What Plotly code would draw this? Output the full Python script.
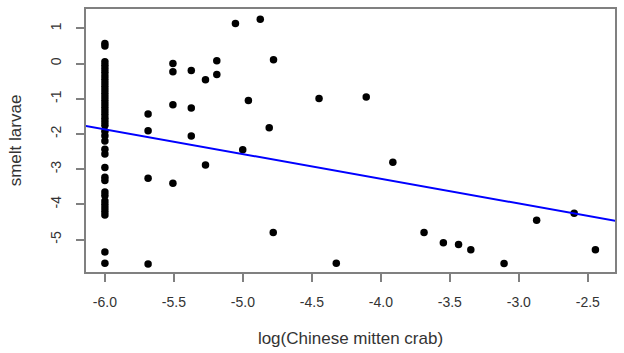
import plotly.graph_objects as go

# Column of observations at log(crab) = -6.0
col_x_value = -6.0
col_y = [0.57, 0.5, 0.05, -0.05, -0.15, -0.25, -0.35, -0.45, -0.55, -0.65, -0.75,
         -0.85, -0.95, -1.05, -1.15, -1.25, -1.35, -1.45, -1.55, -1.65, -1.75,
         -1.92, -2.05, -2.2, -2.43, -2.57, -2.95, -3.23, -3.32, -3.65, -3.75,
         -3.9, -4.0, -4.1, -4.2, -4.3, -5.35, -5.67]

other_x = [-5.054, -4.874, -5.507, -5.507, -5.374, -5.271, -5.189, -5.189, -4.778,
           -4.960, -5.687, -5.507, -5.374, -5.687, -5.374, -4.809, -5.001, -5.271,
           -5.687, -5.507, -4.780, -5.687, -4.448, -4.106, -3.913, -4.323, -3.687,
           -3.547, -3.437, -3.348, -3.107, -2.871, -2.599, -2.445]
other_y = [1.14, 1.26, 0.0, -0.23, -0.20, -0.46, 0.08, -0.31, 0.11,
           -1.05, -1.43, -1.17, -1.26, -1.91, -2.06, -1.82, -2.45, -2.88,
           -3.26, -3.40, -4.80, -5.69, -0.99, -0.95, -2.80, -5.67, -4.80,
           -5.09, -5.14, -5.29, -5.68, -4.45, -4.25, -5.29]

fit_intercept = -6.08
fit_slope = -0.702

x_ticks = [-6.0, -5.5, -5.0, -4.5, -4.0, -3.5, -3.0, -2.5]
y_ticks = [-5, -4, -3, -2, -1, 0, 1]

x_range = [-6.137, -2.303]
y_range = [-5.92, 1.55]

xs = [col_x_value] * len(col_y) + other_x
ys = col_y + other_y

line_x = [x_range[0] - 0.2, x_range[1] + 0.2]
line_y = [fit_intercept + fit_slope * v for v in line_x]

fig = go.Figure()
fig.add_trace(go.Scatter(x=xs, y=ys, mode="markers",
                         marker=dict(color="black", size=7.5),
                         showlegend=False, cliponaxis=True))
fig.add_trace(go.Scatter(x=line_x, y=line_y, mode="lines",
                         line=dict(color="#0000ff", width=2),
                         showlegend=False))

font = dict(family="Liberation Sans, Arial, sans-serif", size=14, color="#333333")
fig.update_layout(
    width=624, height=353,
    margin=dict(l=86, r=7, t=7, b=81),
    paper_bgcolor="white", plot_bgcolor="white",
    font=font,
    xaxis=dict(range=x_range, tickvals=x_ticks, ticktext=[f"{v:.1f}" for v in x_ticks],
               showgrid=False, zeroline=False, showline=True, mirror=True,
               linecolor="#808080", linewidth=1.5, ticks="outside", ticklen=8,
               tickcolor="#808080", tickwidth=1.5, ticklabelstandoff=8,
               title=dict(text="log(Chinese mitten crab)", standoff=24)),
    yaxis=dict(range=y_range, tickvals=y_ticks, ticktext=[str(v) for v in y_ticks],
               tickangle=-90,
               showgrid=False, zeroline=False, showline=True, mirror=True,
               linecolor="#808080", linewidth=1.5, ticks="outside", ticklen=8,
               tickcolor="#808080", tickwidth=1.5, ticklabelstandoff=10,
               title=dict(text="smelt larvae", standoff=22)),
)

fig.write_html("out.html")
